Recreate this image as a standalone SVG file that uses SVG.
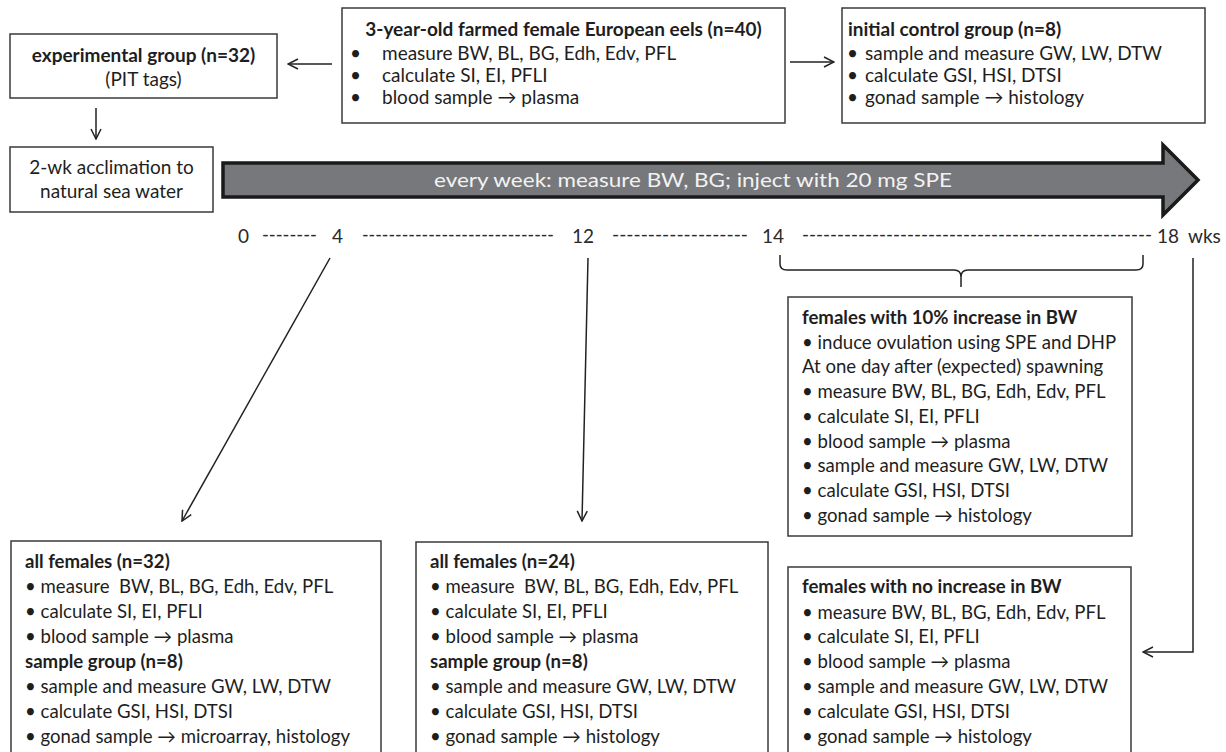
<svg xmlns="http://www.w3.org/2000/svg" width="1226" height="752" viewBox="0 0 1226 752">
<style>
.box{fill:#fff;stroke:#3a3a3a;stroke-width:1.5}
.t{font-family:Lato,"Liberation Sans",sans-serif;font-size:19px;fill:#1e1e1e;white-space:pre}
.s{font-size:18.6px}
.b{font-weight:bold}
.c{text-anchor:middle}
.tl{font-family:Lato,"Liberation Sans",sans-serif;font-size:19px;fill:#2a2a2a;white-space:pre}
.conn{stroke:#222;stroke-width:1.5;fill:none}
</style>
<defs>
<marker id="ah" viewBox="0 0 12 12" refX="11" refY="6" markerWidth="12" markerHeight="12" markerUnits="userSpaceOnUse" orient="auto">
<path d="M1,1 L11,6 L1,11" fill="none" stroke="#222" stroke-width="1.5"/>
</marker>
</defs>
<g id="n-eels">
<rect class="box" x="342" y="8" width="443" height="115"/>
<text class="t b c" x="563.5" y="36">3-year-old farmed female European eels (n=40)</text>
<text class="t" x="350" y="60">•</text><text class="t" x="382" y="60">measure BW, BL, BG, Edh, Edv, PFL</text>
<text class="t" x="350" y="82">•</text><text class="t" x="382" y="82">calculate SI, EI, PFLI</text>
<text class="t" x="350" y="104">•</text><text class="t" x="382" y="104">blood sample → plasma</text>
</g>
<g id="n-control">
<rect class="box" x="842" y="8" width="363" height="115"/>
<text class="t b" x="848" y="36">initial control group (n=8)</text>
<text class="t" x="847" y="60">•</text><text class="t" x="865" y="60">sample and measure GW, LW, DTW</text>
<text class="t" x="847" y="82">•</text><text class="t" x="865" y="82">calculate GSI, HSI, DTSI</text>
<text class="t" x="847" y="104">•</text><text class="t" x="865" y="104">gonad sample → histology</text>
</g>
<g id="n-exp">
<rect class="box" x="10" y="34" width="267" height="64"/>
<text class="t b c" x="143.5" y="62">experimental group (n=32)</text>
<text class="t c" x="143.5" y="86">(PIT tags)</text>
</g>
<g id="n-accl">
<rect class="box" x="10" y="147" width="203" height="65"/>
<text class="t c" x="111.5" y="174">2-wk acclimation to</text>
<text class="t c" x="111.5" y="198">natural sea water</text>
</g>
<g id="n-weekly">
<polygon points="223,163 1163,163 1163,145 1198,180 1163,215 1163,197 223,197" fill="#77787b" stroke="#1a1a1a" stroke-width="3.5" stroke-linejoin="miter"/>
<text class="t c" x="693" y="187" style="fill:#f2f2f2" textLength="518" lengthAdjust="spacingAndGlyphs">every week: measure BW, BG; inject with 20 mg SPE</text>
</g>
<g id="n-timeline">
<text class="tl" x="238" y="243">0</text>
<text class="tl" x="262" y="241" textLength="55" lengthAdjust="spacingAndGlyphs">--------</text>
<text class="tl" x="332" y="243">4</text>
<text class="tl" x="362" y="241" textLength="192" lengthAdjust="spacingAndGlyphs">-----------------------------</text>
<text class="tl c" x="583" y="243">12</text>
<text class="tl" x="612" y="241" textLength="136" lengthAdjust="spacingAndGlyphs">-------------------</text>
<text class="tl" x="762" y="243">14</text>
<text class="tl" x="802" y="241" textLength="350" lengthAdjust="spacingAndGlyphs">--------------------------------------------------</text>
<text class="tl" x="1157" y="243">18</text>
<text class="tl" x="1188" y="243">wks</text>
<path class="conn" d="M780,255 L780,264 Q780,270 787,270 L954,270 Q961,270 961,277 L961,287 M961,277 Q961,270 968,270 L1136,270 Q1143,270 1143,264 L1143,255"/>
</g>
<g id="n-10pct">
<rect class="box" x="788" y="297" width="344" height="239"/>
<text class="t s b" x="802" y="324">females with 10% increase in BW</text>
<text class="t s" x="802" y="349">• induce ovulation using SPE and DHP</text>
<text class="t s" x="802" y="373">At one day after (expected) spawning</text>
<text class="t s" x="802" y="398">• measure BW, BL, BG, Edh, Edv, PFL</text>
<text class="t s" x="802" y="423">• calculate SI, EI, PFLI</text>
<text class="t s" x="802" y="448">• blood sample → plasma</text>
<text class="t s" x="802" y="472">• sample and measure GW, LW, DTW</text>
<text class="t s" x="802" y="497">• calculate GSI, HSI, DTSI</text>
<text class="t s" x="802" y="522">• gonad sample → histology</text>
</g>
<g id="n-all32">
<rect class="box" x="11" y="541" width="370" height="214"/>
<text class="t s b" x="25" y="568">all females (n=32)</text>
<text class="t s" x="25" y="593">• measure  BW, BL, BG, Edh, Edv, PFL</text>
<text class="t s" x="25" y="618">• calculate SI, EI, PFLI</text>
<text class="t s" x="25" y="643">• blood sample → plasma</text>
<text class="t s b" x="25" y="668">sample group (n=8)</text>
<text class="t s" x="25" y="693">• sample and measure GW, LW, DTW</text>
<text class="t s" x="25" y="718">• calculate GSI, HSI, DTSI</text>
<text class="t s" x="25" y="743">• gonad sample → microarray, histology</text>
</g>
<g id="n-all24">
<rect class="box" x="416" y="542" width="352" height="213"/>
<text class="t s b" x="430" y="568">all females (n=24)</text>
<text class="t s" x="430" y="593">• measure  BW, BL, BG, Edh, Edv, PFL</text>
<text class="t s" x="430" y="618">• calculate SI, EI, PFLI</text>
<text class="t s" x="430" y="643">• blood sample → plasma</text>
<text class="t s b" x="430" y="668">sample group (n=8)</text>
<text class="t s" x="430" y="693">• sample and measure GW, LW, DTW</text>
<text class="t s" x="430" y="718">• calculate GSI, HSI, DTSI</text>
<text class="t s" x="430" y="743">• gonad sample → histology</text>
</g>
<g id="n-noinc">
<rect class="box" x="788" y="567" width="343" height="188"/>
<text class="t s b" x="802" y="593">females with no increase in BW</text>
<text class="t s" x="802" y="619">• measure BW, BL, BG, Edh, Edv, PFL</text>
<text class="t s" x="802" y="643">• calculate SI, EI, PFLI</text>
<text class="t s" x="802" y="668">• blood sample → plasma</text>
<text class="t s" x="802" y="693">• sample and measure GW, LW, DTW</text>
<text class="t s" x="802" y="718">• calculate GSI, HSI, DTSI</text>
<text class="t s" x="802" y="743">• gonad sample → histology</text>
</g>
<g id="connectors">
<line class="conn" x1="332" y1="64" x2="288" y2="64" marker-end="url(#ah)"/>
<line class="conn" x1="790" y1="62" x2="834" y2="62" marker-end="url(#ah)"/>
<line class="conn" x1="96" y1="108" x2="96" y2="139" marker-end="url(#ah)"/>
<line class="conn" x1="330" y1="258" x2="182" y2="521" marker-end="url(#ah)"/>
<line class="conn" x1="588" y1="258" x2="582" y2="521" marker-end="url(#ah)"/>
<polyline class="conn" points="1193,258 1193,652 1143,652" marker-end="url(#ah)"/>
</g>
</svg>
